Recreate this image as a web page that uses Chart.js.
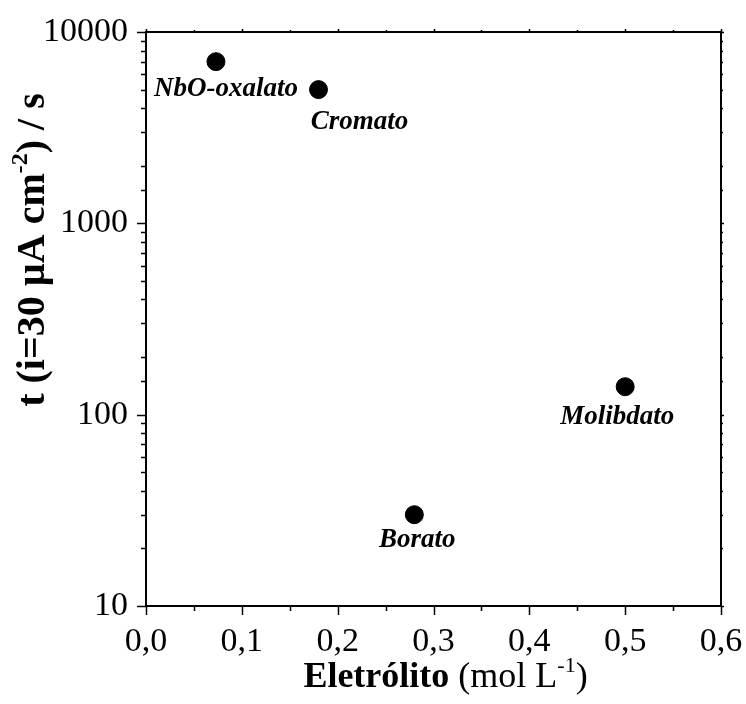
<!DOCTYPE html>
<html>
<head>
<meta charset="utf-8">
<script src="https://cdn.jsdelivr.net/npm/chart.js@4.4.1/dist/chart.umd.min.js"></script>
<style>
  body { margin: 0; background: #fff; }
</style>
</head>
<body>
<canvas id="myChart" width="746" height="704"></canvas>
<script>
// electrolyte data: concentration (mol/L) vs time to reach 30 uA/cm2 (s)
var electrolytes = ["NbO-oxalato", "Cromato", "Borato", "Molibdato"];
var concentration = [0.073, 0.18, 0.28, 0.5];
var timeToCurrent = [7000, 5000, 30, 140];
// where each name sits relative to its dot (centre x, baseline y)
var labelShift = [[10, 34], [41, 39], [3, 32], [-8, 37]];

var serif = '"Liberation Serif", "Times New Roman", serif';

function isDecade(v){
    var l = Math.log10(v);
    return Math.abs(l - Math.round(l)) < 1e-6;
}
function isTenth(v){
    return Math.abs(v * 10 - Math.round(v * 10)) < 1e-6;
}

// draws frame + outward ticks with major/minor lengths
var frameTicks = {
    id: 'frameTicks',
    afterDraw: function(chart){
        var c = chart.ctx, a = chart.chartArea;
        var xs = chart.scales.x, ys = chart.scales.y;
        c.save();
        c.strokeStyle = '#000';
        c.lineWidth = 2;
        c.strokeRect(a.left, a.top, a.right - a.left, a.bottom - a.top);
        c.lineWidth = 1.5;
        c.beginPath();
        xs.ticks.forEach(function(t){
            var px = Math.round(xs.getPixelForValue(t.value)) + 0.5;
            var big = isTenth(t.value);
            c.moveTo(px, a.bottom); c.lineTo(px, a.bottom + (big ? 9 : 5));
            c.moveTo(px, a.top); c.lineTo(px, a.top - (big ? 3 : 2));
        });
        ys.ticks.forEach(function(t){
            var py = Math.round(ys.getPixelForValue(t.value)) + 0.5;
            var big = isDecade(t.value);
            c.moveTo(a.left, py); c.lineTo(a.left - (big ? 9 : 5), py);
            c.moveTo(a.right, py); c.lineTo(a.right + (big ? 3 : 2), py);
        });
        c.stroke();
        c.restore();
    }
};

// names next to each point
var pointNames = {
    id: 'pointNames',
    afterDatasetsDraw: function(chart){
        var c = chart.ctx;
        var meta = chart.getDatasetMeta(0);
        c.save();
        c.fillStyle = '#000';
        c.font = 'bold italic 27px ' + serif;
        c.textAlign = 'center';
        c.textBaseline = 'alphabetic';
        meta.data.forEach(function(p, i){
            c.fillText(electrolytes[i], p.x + labelShift[i][0], p.y + labelShift[i][1]);
        });
        c.restore();
    }
};

// draw a list of [text, font, raise] pieces one after another
function drawPieces(c, pieces, x, y){
    pieces.forEach(function(p){
        c.font = p[1];
        c.fillText(p[0], x, y - (p[2] || 0));
        x += c.measureText(p[0]).width;
    });
}
function piecesWidth(c, pieces){
    var w = 0;
    pieces.forEach(function(p){ c.font = p[1]; w += c.measureText(p[0]).width; });
    return w;
}

var axisTitles = {
    id: 'axisTitles',
    afterDraw: function(chart){
        var c = chart.ctx, a = chart.chartArea;
        c.save();
        c.fillStyle = '#000';
        c.textAlign = 'left';
        c.textBaseline = 'alphabetic';

        var xt = [
            ['Eletrólito', 'bold 36px ' + serif],
            [' (mol L', '36px ' + serif],
            ['-1', '22px ' + serif, 15],
            [')', '36px ' + serif]
        ];
        var cx = (a.left + a.right) / 2 + 12;
        drawPieces(c, xt, cx - piecesWidth(c, xt) / 2, 687);

        var yt = [
            ['t (i=30 µA cm', 'bold 40px ' + serif],
            ['-2', 'bold 24px ' + serif, 17],
            [') / s', 'bold 40px ' + serif]
        ];
        c.translate(44, 250);
        c.rotate(-Math.PI / 2);
        drawPieces(c, yt, -piecesWidth(c, yt) / 2, 0);
        c.restore();
    }
};

var ctx = document.getElementById('myChart').getContext('2d');
var chart = new Chart(ctx, {
    type: 'scatter',
    data: {
        datasets: [{
            data: concentration.map(function(x, i){ return {x: x, y: timeToCurrent[i]}; }),
            backgroundColor: '#000',
            borderColor: '#000',
            pointRadius: 9,
            pointHoverRadius: 9
        }]
    },
    options: {
        responsive: false,
        animation: false,
        layout: { padding: { top: 32, right: 25, left: 0, bottom: 0 } },
        plugins: {
            legend: { display: false },
            tooltip: { enabled: false }
        },
        scales: {
            x: {
                type: 'linear',
                min: 0,
                max: 0.6,
                grid: { display: false, drawTicks: false },
                border: { display: false },
                afterFit: function(s){
                    s.height = 98;
                    s.paddingLeft = 0;
                    s.paddingRight = 0;
                },
                ticks: {
                    stepSize: 0.05,
                    autoSkip: false,
                    maxRotation: 0,
                    padding: 16,
                    color: '#000',
                    font: { family: serif, size: 34 },
                    callback: function(v){
                        return isTenth(v) ? v.toFixed(1).replace('.', ',') : '';
                    }
                }
            },
            y: {
                type: 'logarithmic',
                min: 10,
                max: 10000,
                grid: { display: false, drawTicks: false },
                border: { display: false },
                afterFit: function(s){
                    s.width = 146;
                    s.paddingTop = 0;
                    s.paddingBottom = 0;
                },
                ticks: {
                    autoSkip: false,
                    padding: 18,
                    color: '#000',
                    font: { family: serif, size: 34 },
                    callback: function(v){
                        return isDecade(v) ? String(Math.round(v)) : '';
                    }
                }
            }
        }
    },
    plugins: [frameTicks, pointNames, axisTitles]
});
</script>
</body>
</html>
